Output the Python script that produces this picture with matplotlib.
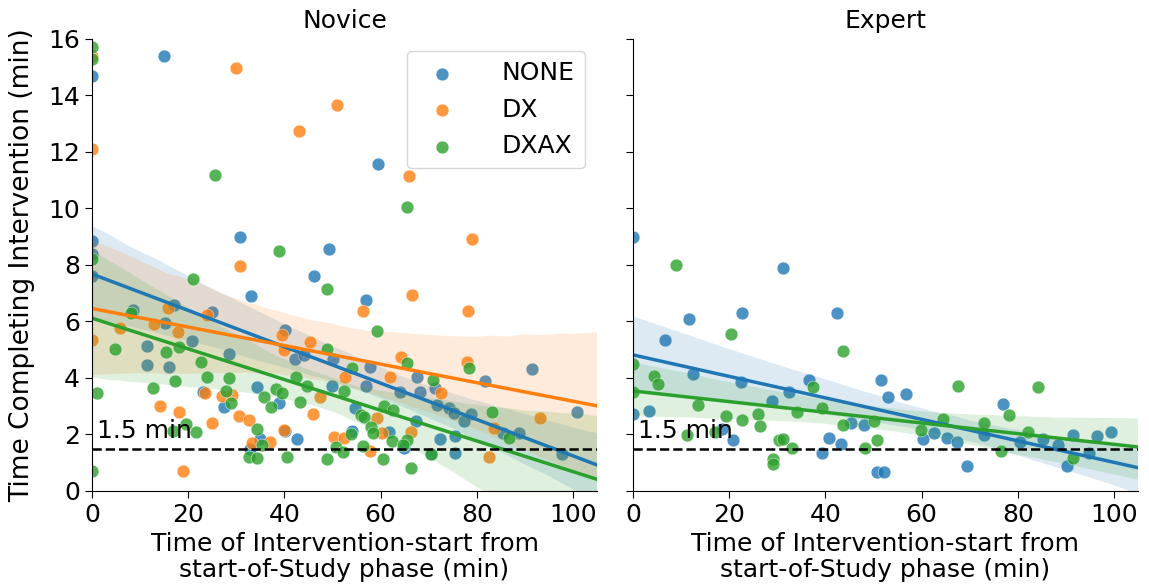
import matplotlib
matplotlib.use("Agg")
import matplotlib.pyplot as plt
import numpy as np
import seaborn as sns

# Novice panel: (start time, completion time)
nov_none_x = [0, 0, 0, 0, 15, 30.8, 49.2, 59.4, 46.2, 33.1, 8.5, 17.1, 25, 15.2, 20.8, 11.5,
              28.5, 11.5, 16, 40.2, 42.3, 44, 50, 49.8, 23.1, 34.4, 27.5, 38.8, 40.2, 42.7,
              35, 32.9, 56.9, 91.5, 57.7, 56.9, 67.5, 71.3, 64, 68.1, 81.7, 54.6, 71.7, 74.2,
              75.2, 78.8, 67.3, 77.3, 100.8, 61.7, 64.8, 54, 72.3, 75.4, 70.4, 75.4, 85.4,
              88.7, 97.7]
nov_none_y = [14.7, 8.85, 8.4, 7.6, 15.4, 9.0, 8.57, 11.57, 7.6, 6.9, 6.4, 6.58, 6.34, 5.95, 5.31, 5.13,
              4.85, 4.46, 4.39, 5.7, 4.67, 4.81, 4.67, 3.72, 3.5, 3.68, 2.97, 3.12, 2.12, 1.84,
              1.84, 1.49, 6.76, 4.32, 4.39, 3.72, 4.04, 3.65, 3.5, 3.5, 3.89, 2.94, 3.04, 2.94,
              2.76, 2.72, 2.48, 2.48, 2.8, 2.09, 1.52, 2.12, 1.84, 1.95, 1.31, 1.34, 2.05,
              2.05, 1.31]

nov_dx_x = [0, 30, 51, 43.1, 0, 30.8, 66, 79, 56.3, 66.5, 78.1, 15.8, 24, 5.8, 12.9, 17.9,
            0, 39.4, 45.4, 40, 64.2, 77.9, 52.5, 61.9, 72.5, 23.5, 27.1, 29.2, 47.5, 14.2,
            18.1, 30.6, 32.7, 25, 46, 40, 33.3, 36.9, 50.4, 19, 59.2, 93.1, 60.2, 66.3,
            57.7, 52.3, 83.5, 82.5]
nov_dx_y = [15.4, 14.97, 13.66, 12.74, 12.1, 7.96, 11.15, 8.92, 6.37, 6.94, 6.37, 6.48, 6.23, 5.77, 5.91, 5.63,
            5.35, 5.52, 5.27, 4.99, 4.74, 4.57, 4.04, 4.04, 3.47, 3.47, 3.36, 3.4, 3.33, 3.0,
            2.8, 2.65, 2.51, 2.41, 2.72, 2.16, 1.7, 1.73, 1.91, 0.71, 2.58, 2.58, 2.05, 2.09,
            1.42, 1.88, 2.23, 1.2]

nov_dxax_x = [0, 0, 0, 25.6, 38.8, 65.4, 21, 48.9, 8.2, 4.8, 15.4, 18.1, 22.7, 48.8, 59.2,
              65.4, 78.3, 54, 52.3, 70.8, 24, 28.5, 17.3, 42.5, 44.8, 12.7, 1, 27.9, 35.8,
              38.3, 39.6, 28.9, 43.3, 37.3, 19.6, 21.7, 16.9, 34.2, 35.4, 32.7, 34.2, 40.6,
              48.9, 50.8, 0, 60.8, 62.5, 83.1, 56, 56.5, 58.1, 58.5, 62.3, 65.4, 64.6, 56.3,
              53.8, 52.1, 70.4, 86.7, 60.6, 66.3]
nov_dxax_y = [15.7, 15.3, 8.2, 11.19, 8.5, 10.05, 7.5, 7.15, 6.3, 5.03, 4.92, 5.1, 4.57, 5.03, 5.66,
              4.53, 4.35, 4.35, 3.54, 3.93, 4.04, 4.0, 3.89, 4.04, 3.72, 3.65, 3.47, 3.54, 3.33,
              3.61, 3.47, 3.12, 3.15, 2.97, 2.37, 2.09, 2.12, 2.19, 1.63, 1.2, 1.17, 1.2,
              1.13, 1.56, 0.71, 3.0, 2.87, 2.8, 2.69, 2.62, 2.27, 2.05, 1.77, 1.8, 1.63, 1.59,
              2.02, 1.38, 1.31, 1.88, 1.13, 0.81]

# Expert panel (no DX group)
exp_none_x = [0, 31.2, 22.7, 42.5, 11.7, 6.7, 12.5, 22.5, 36.7, 51.6, 32.5, 29, 0, 3.3, 45.4,
              48.1, 18.5, 20.8, 40.8, 43.3, 39.4, 50.8, 53.1, 56.7, 76.9, 60.4, 62.5, 65.2,
              67.3, 72.9, 80.4, 85.2, 88.3, 91.5, 96.5, 99.4, 94.8, 90.2, 69.4, 52.1]
exp_none_y = [9.0, 7.9, 6.3, 6.3, 6.1, 5.35, 4.14, 3.85, 3.93, 3.93, 3.5, 3.2, 2.72, 2.83, 2.41,
              2.34, 2.2, 1.8, 1.88, 1.66, 1.34, 0.67, 3.33, 3.43, 3.08, 1.84, 2.05, 1.88,
              1.73, 1.98, 1.73, 1.84, 1.63, 1.98, 1.95, 2.09, 1.34, 0.88, 0.88, 0.67]

exp_dxax_x = [9, 20.4, 43.7, 0, 4.4, 5.2, 37.5, 0, 13.5, 34.2, 39.2, 19.4, 26, 22.7, 26.5,
              43.7, 50.2, 11.2, 17.1, 30.4, 31.2, 33.1, 48.3, 50.8, 29.2, 29.2, 67.5, 84.2,
              78.1, 64.4, 59.8, 72.9, 82.1, 91.5, 76.5]
exp_dxax_y = [8.0, 5.56, 4.96, 4.5, 4.07, 3.8, 3.68, 3.5, 3.04, 2.8, 2.94, 2.65, 2.72, 2.51, 2.3,
              2.34, 2.48, 1.98, 2.09, 1.8, 1.84, 1.52, 1.52, 1.8, 1.13, 0.96, 3.72, 3.68,
              2.69, 2.55, 2.16, 2.41, 2.09, 1.17, 1.42]

conditions = ['NONE', 'DX', 'DXAX']
colors = {'NONE': '#1f77b4', 'DX': '#ff7f0e', 'DXAX': '#2ca02c'}
threshold = 1.5

panels = [
    ('Novice', {'NONE': (nov_none_x, nov_none_y), 'DX': (nov_dx_x, nov_dx_y),
                'DXAX': (nov_dxax_x, nov_dxax_y)}),
    ('Expert', {'NONE': (exp_none_x, exp_none_y), 'DXAX': (exp_dxax_x, exp_dxax_y)}),
]

FS = 18

fig = plt.figure(figsize=(11.49, 5.88), dpi=100)
ax1 = fig.add_axes([0.0801, 0.165, 0.4395, 0.7687])
ax2 = fig.add_axes([0.5509, 0.165, 0.4395, 0.7687], sharey=ax1)

for ax, (title, groups) in zip([ax1, ax2], panels):
    ax.set_xlim(0, 105)
    for cond in conditions:
        if cond not in groups:
            continue
        gx, gy = groups[cond]
        sns.regplot(x=np.array(gx), y=np.array(gy), ax=ax, color=colors[cond], label=cond,
                    truncate=False, seed=3,
                    scatter_kws={'s': 85, 'alpha': 0.8, 'linewidths': 0.4, 'edgecolors': 'white'},
                    line_kws={'lw': 2.5})
    ax.axhline(threshold, color='black', ls='--', lw=1.8)
    ax.text(1, threshold + 0.2, '1.5 min', fontsize=FS, va='bottom', ha='left')
    ax.set_xlim(0, 105)
    ax.set_ylim(0, 16)
    ax.set_title(title, fontsize=FS, pad=8)
    ax.set_xlabel('Time of Intervention-start from\nstart-of-Study phase (min)', fontsize=FS, linespacing=1.1)
    ax.set_xticks([0, 20, 40, 60, 80, 100])
    ax.set_yticks(np.arange(0, 17, 2))
    ax.tick_params(labelsize=FS, length=5)
    ax.spines['top'].set_visible(False)
    ax.spines['right'].set_visible(False)

ax1.set_ylabel('Time Completing Intervention (min)', fontsize=19)
ax1.yaxis.set_label_coords(-0.112, 0.5)
plt.setp(ax2.get_yticklabels(), visible=False)
ax1.legend(loc='upper right', fontsize=FS, scatterpoints=1, handletextpad=1.4)

fig.savefig('out.png', dpi=100)
